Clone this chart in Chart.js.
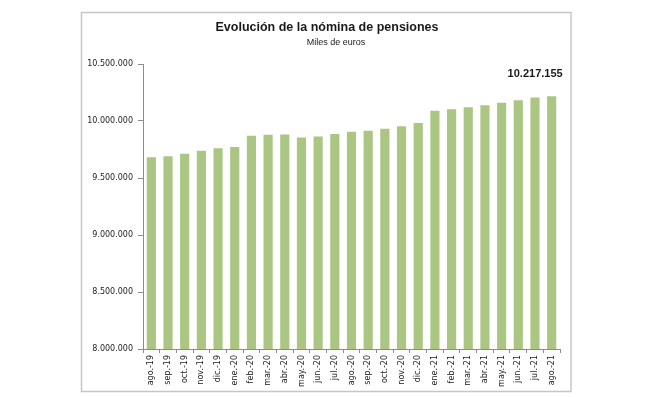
<!DOCTYPE html>
<html>
<head>
<meta charset="utf-8">
<script src="https://cdn.jsdelivr.net/npm/chart.js@4/dist/chart.umd.min.js"></script>
<style>
    html, body { margin: 0; padding: 0; background: #ffffff; }
    #wrap { position: relative; width: 670px; height: 397px; }
</style>
</head>
<body>
<div id="wrap"><canvas id="chart" width="670" height="397"></canvas></div>
<script>
// Datos: nómina de pensiones, miles de euros
var meses = ['ago.-19', 'sep.-19', 'oct.-19', 'nov.-19', 'dic.-19', 'ene.-20', 'feb.-20', 'mar.-20',
    'abr.-20', 'may.-20', 'jun.-20', 'jul.-20', 'ago.-20', 'sep.-20', 'oct.-20', 'nov.-20',
    'dic.-20', 'ene.-21', 'feb.-21', 'mar.-21', 'abr.-21', 'may.-21', 'jun.-21', 'jul.-21', 'ago.-21'];
var nomina = [9681000, 9691000, 9712000, 9738000, 9761000, 9771000, 9871000, 9879000,
    9882000, 9856000, 9865000, 9885000, 9905000, 9915000, 9931000, 9954000,
    9982000, 10091000, 10103000, 10121000, 10138000, 10159000, 10182000, 10206000, 10217155];
var titulo = 'Evolución de la nómina de pensiones';
var subtitulo = 'Miles de euros';
var ejeMin = 8000000;
var ejeMax = 10500000;
var ejePaso = 500000;

function formatoMiles(v) {
    return String(Math.round(v)).replace(/\B(?=(\d{3})+(?!\d))/g, '.');
}

// marco, títulos y etiqueta del último valor
var decoracion = {
    id: 'decoracion',
    beforeDraw: function (chart) {
        var ctx = chart.ctx;
        ctx.save();
        ctx.strokeStyle = '#c6c6c6';
        ctx.lineWidth = 1.5;
        ctx.strokeRect(81.5, 12.5, 489.5, 379);
        ctx.restore();
    },
    afterDraw: function (chart) {
        var ctx = chart.ctx;
        ctx.save();
        ctx.fillStyle = '#1a1a1a';
        ctx.textAlign = 'center';
        ctx.textBaseline = 'middle';
        ctx.font = 'bold 12.5px "Liberation Sans", Arial, sans-serif';
        ctx.fillText(titulo, 327, 28);
        ctx.font = '9px "Liberation Sans", Arial, sans-serif';
        ctx.fillText(subtitulo, 336, 43);

        var ultimo = nomina.length - 1;
        var meta = chart.getDatasetMeta(0).data[ultimo];
        var y = chart.scales.y.getPixelForValue(nomina[ultimo]);
        ctx.font = 'bold 11px "Liberation Sans", Arial, sans-serif';
        ctx.textAlign = 'right';
        ctx.fillText(formatoMiles(nomina[ultimo]), meta.x + 11, y - 22);
        ctx.restore();
    }
};

var ctx = document.getElementById('chart');
new Chart(ctx, {
    type: 'bar',
    data: {
        labels: meses,
        datasets: [{
            data: nomina,
            backgroundColor: '#abc683',
            borderWidth: 0,
            barPercentage: 0.55,
            categoryPercentage: 1.0
        }]
    },
    options: {
        responsive: false,
        animation: false,
        devicePixelRatio: 1,
        layout: { padding: { left: 88, right: 110, top: 64, bottom: 6 } },
        plugins: {
            legend: { display: false },
            tooltip: { enabled: false },
            title: { display: false }
        },
        scales: {
            x: {
                grid: {
                    display: true,
                    offset: true,
                    drawOnChartArea: false,
                    drawTicks: true,
                    tickLength: 4,
                    color: '#8c8c8c'
                },
                border: { display: true, color: '#8c8c8c', width: 1 },
                ticks: {
                    autoSkip: false,
                    minRotation: 90,
                    maxRotation: 90,
                    padding: 2,
                    color: '#222222',
                    font: { family: '"DejaVu Sans", Verdana, sans-serif', size: 8 }
                },
                afterFit: function (scale) { scale.height = 42; }
            },
            y: {
                min: ejeMin,
                max: ejeMax,
                grid: {
                    display: true,
                    drawOnChartArea: false,
                    drawTicks: true,
                    tickLength: 5,
                    color: '#8c8c8c'
                },
                border: { display: true, color: '#8c8c8c', width: 1 },
                ticks: {
                    stepSize: ejePaso,
                    padding: 5,
                    color: '#222222',
                    font: { family: '"DejaVu Sans", Verdana, sans-serif', size: 8 },
                    callback: function (v) { return formatoMiles(v); }
                },
                afterFit: function (scale) { scale.width = 55; }
            }
        }
    },
    plugins: [decoracion]
});
</script>
</body>
</html>
